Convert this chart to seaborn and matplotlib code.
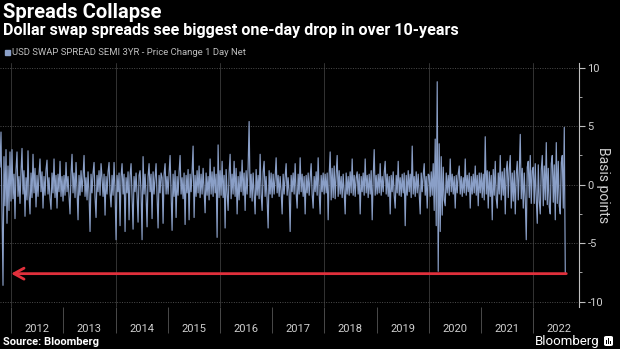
import matplotlib
matplotlib.use("Agg")
import matplotlib.pyplot as plt
import matplotlib.dates as mdates
from matplotlib.patches import Rectangle, FancyBboxPatch
import pandas as pd
import seaborn as sns

# USD swap spread (semi, 3yr) - 1 day net change in basis points, weekly readings
late_2011 = [1.5, 4.5, -2.0, -8.6, 2.4, -1.8, 3.0, -3.3, 1.6, -2.2, 2.8, -1.4]
y2012 = [3.0, -1.2, 0.9, -2.9, 1.3, 2.8, -1.0, 0.7, -1.6, 1.1, 3.1, -0.8, 1.2,
         -2.7, 0.6, -1.3, 2.9, -0.9, -2.5, 1.0, -1.1, 2.6, -0.7, 1.4, -1.9, 0.8,
         -1.0, 0.9, 2.2, -0.6, 1.1, -2.0, 0.7, -0.9, 1.3, 2.1, -0.8, 0.6, -1.2,
         -2.1, 1.0, -0.7, 2.2, -1.1, 0.8, -2.0, 0.9, -0.6, 2.0, -1.0, 0.7, -1.4]
y2013 = [0.8, -0.9, 1.9, -0.6, 0.7, -1.0, -2.5, 0.9, 2.6, -0.7, 1.0, -1.1, 1.9,
         -0.5, -3.0, 0.8, -0.9, 1.2, -0.6, 0.7, 2.5, -1.0, 0.6, -1.3, 1.1, -0.8,
         -4.0, 0.9, -0.7, 1.0, 1.9, -1.1, -2.8, 0.8, -0.6, 1.2, -0.9, 1.8, 0.6,
         -1.0, 0.9, -2.6, 0.7, -0.8, 1.1, 1.9, -0.7, -1.9, 0.8, -0.9, 1.9, -0.6]
y2014 = [-4.7, 0.8, -0.6, 1.0, -3.5, 0.7, 1.8, -0.8, 0.9, -4.0, 0.6, -0.7, 1.1,
         -3.0, 0.8, 1.8, -0.9, -3.8, 0.7, -0.6, 1.0, -0.9, -3.2, 0.8, 1.2, -0.7,
         -4.7, 2.4, -0.8, 0.9, -1.0, -3.6, 0.7, 1.8, -0.6, 0.9, -2.9, 1.1, -0.8,
         0.6, 1.8, -0.9, -3.7, 0.8, -0.7, 1.0, 0.6, -3.3, 0.9, 1.8, -0.8, 0.7]
y2015 = [-0.8, 1.0, 2.5, -0.7, -3.9, 0.9, -1.0, 1.2, -2.8, 0.7, -0.9, 1.1, 2.5,
         -0.8, 0.6, -1.2, 1.0, -3.4, 0.8, -0.7, 1.3, -3.0, 0.9, -0.6, 1.1, 3.3,
         -2.8, 0.8, -1.0, 1.2, -0.7, 1.6, -1.1, 0.9, -0.8, 1.4, -0.6, -2.4, 1.0,
         -0.9, 0.7, -1.3, 2.2, -0.8, 1.1, -1.0, 1.5, -0.7, 0.9, -4.5, 3.4, -1.1]
y2016 = [1.2, -0.9, 2.0, -1.1, 0.8, -3.7, 1.3, -0.7, -2.2, 1.0, 2.6, -1.2, 0.9,
         -0.8, 2.0, -1.0, 1.4, -2.5, 0.7, -1.3, 1.1, -0.6, 2.1, -0.9, 1.0, -2.2,
         1.2, -0.8, 1.5, 5.4, -1.1, 0.9, -1.4, 1.0, -0.7, -2.5, 1.3, -0.9, 0.8,
         -1.2, 2.6, -0.8, -2.2, 1.1, 2.0, -1.0, 0.7, -1.3, -3.7, 1.2, -0.8, 1.0,
         -1.1]
y2017 = [0.9, -0.8, 0.6, 2.3, -0.7, 0.8, -1.0, 0.7, -0.6, -2.5, 0.9, -0.8, 0.7,
         1.8, -0.9, 0.6, -0.7, -4.0, 0.8, -0.6, 1.0, -0.8, 1.8, -0.7, -2.0, 0.9,
         -0.8, 2.3, -0.6, 0.9, -1.0, 0.7, -2.5, 0.8, -0.7, 1.0, -0.9, 0.6, 1.8,
         -0.8, -2.0, 0.7, -0.6, 1.1, -0.9, 2.3, -0.7, -2.5, 0.8, -0.6, 1.0, -0.8]
y2018 = [0.9, -0.7, 1.0, -3.0, 0.8, 2.8, -1.3, 1.4, -1.1, 1.6, -1.2, 0.9, 2.5,
         -1.0, 1.2, -0.8, 0.7, -1.1, 0.9, -0.6, -2.5, 1.0, -0.8, 0.7, -0.9, 1.1,
         -0.7, 2.2, -0.9, 0.8, -1.0, 0.6, 1.1, -0.8, 0.9, -2.5, 0.7, -0.6, 1.0,
         -0.9, 2.2, -0.7, 0.8, -1.1, 0.9, -0.8, 1.2, -3.0, 0.6, 3.0, -0.9, 0.8]
y2019 = [-0.8, 0.9, -0.7, 1.8, -0.9, 0.7, -0.6, 1.0, 2.0, -0.8, 0.9, -1.0, 0.7,
         -2.5, 0.8, -0.6, 1.1, -0.9, -2.0, 0.8, -0.7, 2.0, -0.9, 0.6, -1.0, 0.9,
         -0.7, 1.0, -3.5, 0.8, -0.9, 1.2, -0.6, 0.9, -1.1, 3.3, -0.8, 0.7, -1.0,
         1.1, -0.7, 0.9, -0.8, -2.5, 1.0, -0.6, 0.8, 1.8, -0.9, 0.7, -2.0, 0.9]
y2020 = [0.8, -1.0, 1.1, -0.9, 1.8, -2.2, 3.9, -3.5, 8.8, -7.4, 3.5, -4.0, 2.4,
         -2.6, 1.5, -1.3, -1.8, 1.0, -0.7, 0.8, -0.9, 2.2, -0.6, 0.9, -0.8, 0.7,
         -2.0, 0.8, -0.7, 0.9, 1.6, -0.8, 0.7, -1.0, 0.6, -0.7, 2.2, -0.9, 0.8,
         -0.6, 1.0, -2.0, 0.7, -0.8, 0.9, -0.7, 1.6, -0.9, 0.8, -1.8, 1.0, -0.7]
y2021 = [1.0, -1.1, 0.9, -1.3, 4.1, -0.8, 1.2, -2.0, 1.1, -1.0, 0.8, -3.0, 1.3,
         -0.9, 2.0, -1.2, -2.0, 1.0, -0.8, 2.5, -1.3, 1.1, -0.9, 1.4, -2.5, 1.2,
         2.0, -1.1, 1.3, 2.5, -2.0, 1.0, -1.4, 1.2, -2.5, 0.9, 2.0, -1.3, 1.1,
         4.3, -1.2, 1.4, -2.0, 1.0, -1.3, -4.7, 1.5, 2.0, -1.1, 2.5, -1.6, 1.2]
y2022 = [1.5, -1.6, 1.8, -1.2, -3.3, 1.7, -1.4, -2.5, 1.3, 2.5, -1.8, 1.6, -1.3,
         3.6, -1.7, 1.4, -1.9, -2.5, 1.8, 2.5, -1.5, 1.7, -3.0, 3.6, -1.6, 2.0,
         -1.8, -2.5, 1.9, 2.5, -2.0, 4.9, -7.5]

values = (late_2011 + y2012 + y2013 + y2014 + y2015 + y2016 + y2017 + y2018
          + y2019 + y2020 + y2021 + y2022)
dates = pd.date_range("2011-10-15", periods=len(values), freq="W-SAT")

years = list(range(2012, 2023))
y_ticks = [-10, -5, 0, 5, 10]
legend_label = "USD SWAP SPREAD SEMI 3YR - Price Change 1 Day Net"
arrow_level = -7.6

df = pd.DataFrame({"date": dates, "change": values})

BG = "#000000"
LINE = "#8a9fc7"
TXT = "#d0d0d0"

sns.set_theme(style="dark", rc={"axes.facecolor": BG, "figure.facecolor": BG})
plt.rcParams["font.family"] = ["Roboto", "DejaVu Sans"]

fig = plt.figure(figsize=(6.2, 3.49), dpi=100)
ax = fig.add_axes([0.0, 42 / 349, 579 / 620, 244 / 349])
ax.set_facecolor(BG)

sns.lineplot(data=df, x="date", y="change", ax=ax, color=LINE, linewidth=0.85,
             estimator=None)

ax.set_xlim(pd.Timestamp("2011-10-15"), pd.Timestamp("2022-11-17"))
ax.set_ylim(-10.45, 10.4)

# axes furniture
for side in ["top", "left", "bottom"]:
    ax.spines[side].set_visible(False)
ax.spines["right"].set_visible(True)
ax.spines["right"].set_color("#bfbfbf")
ax.spines["right"].set_linewidth(0.8)

ax.yaxis.tick_right()
ax.set_yticks(y_ticks)
ax.set_yticklabels([str(t) for t in y_ticks])
ax.yaxis.set_minor_locator(matplotlib.ticker.MultipleLocator(2.5))
ax.tick_params(axis="y", which="major", direction="out", length=4, width=0.8,
               color="#bfbfbf", labelcolor=TXT, labelsize=8, pad=2, right=True)
ax.tick_params(axis="y", which="minor", direction="out", length=2.5, width=0.6,
               color="#bfbfbf", right=True)
ax.set_ylabel("")
fig.text(603 / 620, 1 - 185 / 349, "Basis points", rotation=270, color=TXT,
         fontsize=10, ha="center", va="center")

ax.xaxis.set_major_locator(mdates.YearLocator())
ax.xaxis.set_major_formatter(matplotlib.ticker.NullFormatter())
ax.xaxis.set_minor_locator(mdates.MonthLocator(bymonth=7))
ax.xaxis.set_minor_formatter(mdates.DateFormatter("%Y"))
ax.tick_params(axis="x", which="major", direction="out", length=19, width=0.7,
               color="#4a4a4a", bottom=True)
ax.tick_params(axis="x", which="minor", length=0, labelcolor=TXT, labelsize=8,
               pad=12, bottom=True)
ax.set_xlabel("")

ax.grid(False)
ax.yaxis.grid(True, which="major", linestyle=(0, (1, 1.5)), color="#4d4d4d",
              linewidth=0.7)
for yr in years[::2]:
    ax.axvline(pd.Timestamp(f"{yr}-01-01"), color="#333333", linewidth=0.7,
               zorder=0)

# arrow marking the level of the latest drop
ax.annotate("", xy=(pd.Timestamp("2012-01-01"), arrow_level),
            xytext=(pd.Timestamp("2022-08-20"), arrow_level),
            arrowprops=dict(arrowstyle="->,head_length=0.6,head_width=0.33",
                            color="#e0303c", lw=2.0, shrinkA=0, shrinkB=0))

# titles and legend
fig.text(3 / 620, 1 - 13 / 349, "Spreads Collapse", color="white",
         fontsize=14.5, fontweight="bold", va="center", ha="left")
fig.text(3 / 620, 1 - 31 / 349,
         "Dollar swap spreads see biggest one-day drop in over 10-years",
         color="white", fontsize=11.6, fontweight="bold", va="center",
         ha="left")
fig.patches.append(Rectangle((5 / 620, 1 - 55 / 349), 5 / 620, 5 / 349,
                             transform=fig.transFigure, color=LINE))
fig.text(12 / 620, 1 - 52.5 / 349, legend_label, color="#bdbdbd",
         fontsize=6.8, va="center", ha="left")

fig.text(3 / 620, 1 - 342 / 349, "Source: Bloomberg", color="white",
         fontsize=8, fontweight="bold", va="center", ha="left")
fig.text(600 / 620, 1 - 341 / 349, "Bloomberg", color="white",
         fontsize=9.5, va="center", ha="right")
fig.patches.append(FancyBboxPatch((604 / 620, 1 - 346 / 349), 9 / 620, 10 / 349,
                                  boxstyle="round,pad=0,rounding_size=0.004",
                                  transform=fig.transFigure,
                                  facecolor="white", edgecolor="none"))
for i, h in enumerate([4, 6, 3]):
    fig.patches.append(Rectangle(((605.8 + i * 2.2) / 620, 1 - 344 / 349),
                                 1.2 / 620, h / 349,
                                 transform=fig.transFigure,
                                 facecolor=BG, edgecolor="none"))

fig.savefig("out.png", dpi=100, facecolor=BG)
